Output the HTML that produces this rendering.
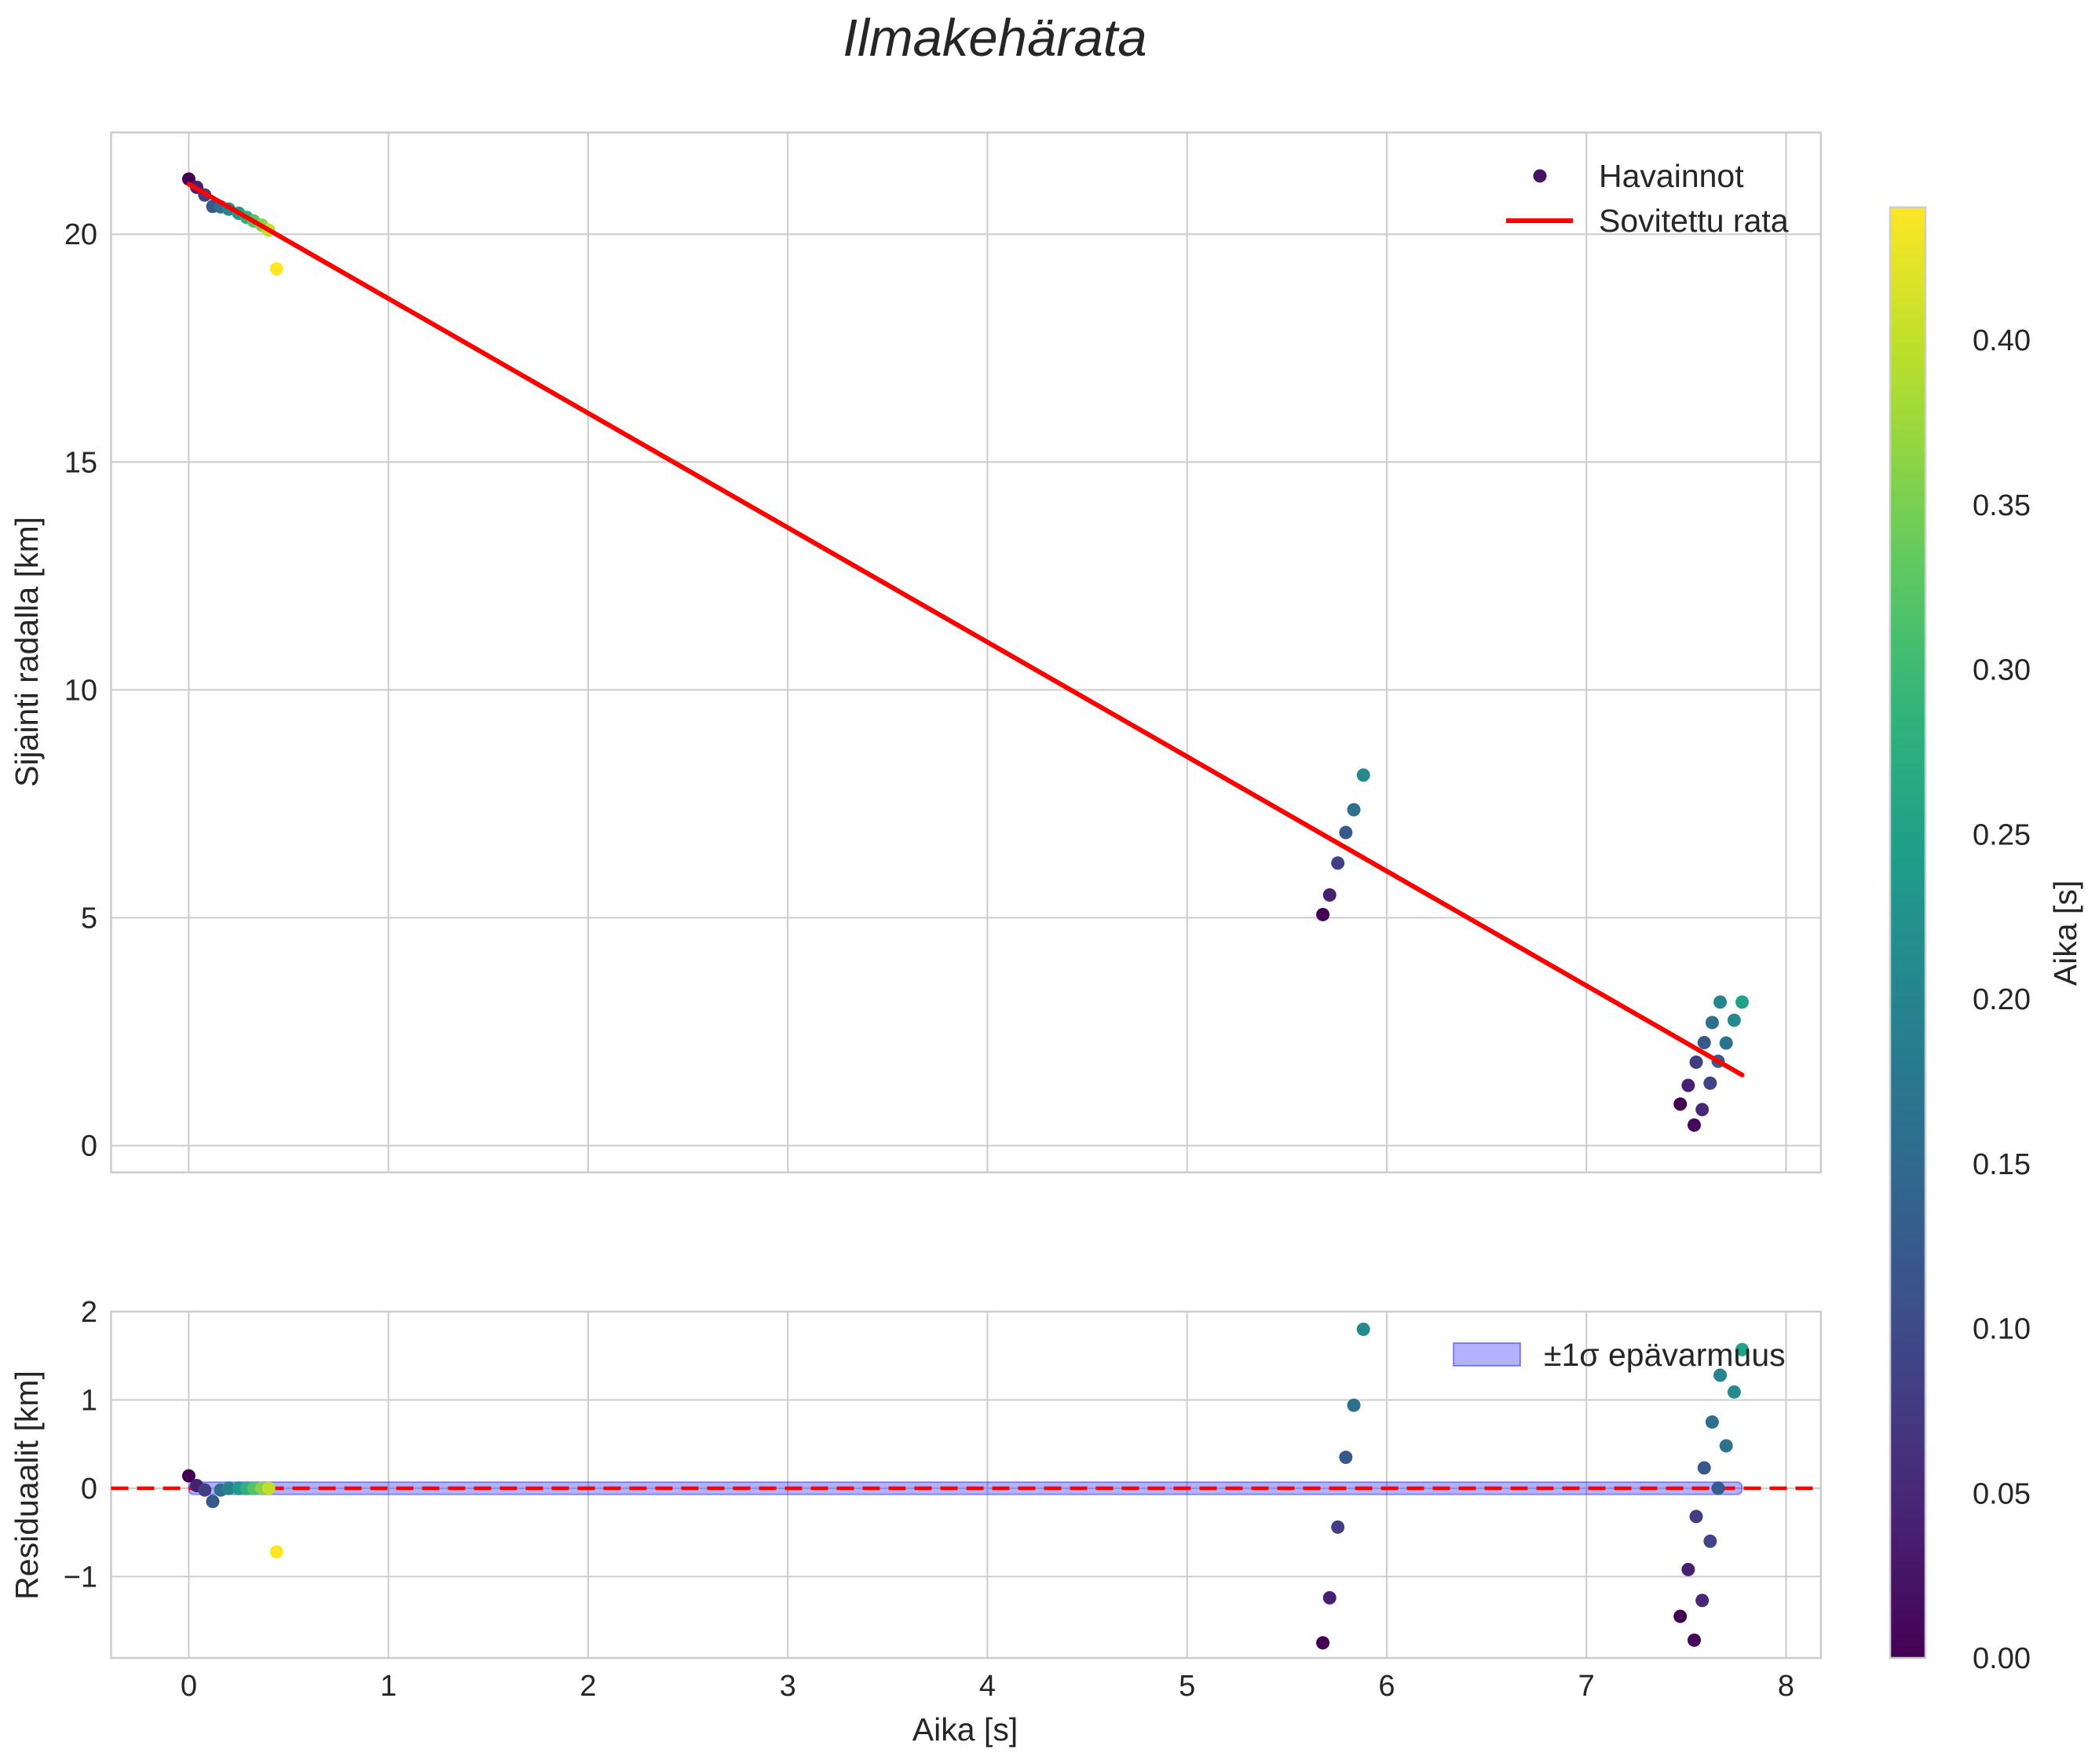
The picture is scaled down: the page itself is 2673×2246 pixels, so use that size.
<!DOCTYPE html>
<html><head><meta charset="utf-8"><style>
html,body{margin:0;padding:0;background:#fff;}
svg{display:block;font-family:"Liberation Sans",sans-serif;}
</style></head><body>
<svg id="fig" width="2673" height="2246" viewBox="0 0 2673 2246" xmlns="http://www.w3.org/2000/svg">
<text x="1267" y="71" font-size="67" font-style="italic" text-anchor="middle" fill="#262626">Ilmakehärata</text>
<g id="topPanel"></g>
<g id="botPanel"></g>
<g id="cbPanel"></g>
</svg>
<script>
const obsTime=[0,0.04,0.08,0.12,0.16,0.2,0.25,0.29,0.325,0.365,0.40,0.44,
5.68,5.714,5.755,5.795,5.835,5.883,
7.47,7.51,7.54,7.55,7.58,7.59,7.62,7.63,7.66,7.67,7.70,7.74,7.78];
const obsPos=[21.21,21.03,20.86,20.61,20.6,20.55,20.46,20.37,20.29,20.2,20.09,19.24,
5.07,5.5,6.2,6.87,7.37,8.13,
0.91,1.32,0.45,1.83,0.79,2.26,1.37,2.70,1.85,3.15,2.25,2.75,3.15];
const obsColor=[0,0.04,0.08,0.12,0.16,0.2,0.24,0.28,0.32,0.36,0.40,0.44,
0.0,0.04,0.08,0.12,0.16,0.21,
0.0,0.04,0.01,0.08,0.05,0.12,0.09,0.16,0.13,0.20,0.17,0.21,0.25];
const residuals=[0.14,0.03,-0.02,-0.15,-0.02,0,0,0,0,0,0,-0.72,
-1.75,-1.24,-0.44,0.35,0.94,1.8,
-1.45,-0.92,-1.72,-0.32,-1.27,0.23,-0.6,0.75,0.0,1.28,0.48,1.09,1.57];
const fitT=[0,7.78];
const fitPos=[21.1,1.55];
const sigmaHalf=0.07;
const xTicks=[0,1,2,3,4,5,6,7,8];
const yTopTicks=[0,5,10,15,20];
const yBotTicks=[-1,0,1,2];
const yBotTickLabels=["\u22121","0","1","2"];
const cbTicks=[0,0.05,0.10,0.15,0.20,0.25,0.30,0.35,0.40];

const NS="http://www.w3.org/2000/svg";
function mk(p,tag,a){const e=document.createElementNS(NS,tag);for(const k in a)e.setAttribute(k,a[k]);p.appendChild(e);return e;}
const VIR=[[68,1,84],[72,40,120],[62,74,137],[49,104,142],[38,130,142],[31,158,137],[53,183,121],[109,205,89],[180,222,44],[253,231,37]];
function viridis(v){v=Math.max(0,Math.min(1,v));const f=v*9,i=Math.min(8,Math.floor(f)),t=f-i;const a=VIR[i],b=VIR[i+1];return `rgb(${a.map((c,k)=>Math.round(c+(b[k]-c)*t)).join(',')})`;}
const cMax=0.4403;
const L=141.5,R=2318.8;
const X=v=>240.4+v*254.26;
const TT=168.7,TB=1492.7; const YT=v=>1458.6-v*58.02;
const BT=1670,BB=2111; const YB=v=>1894.9-v*112.45;
const TF=38, AF=41;

function axes(g,y0,y1,yf,yt,ylab,showX,pre){
  for(const t of xTicks){const l=mk(g,'line',{x1:X(t),x2:X(t),y1:y0,y2:y1,stroke:'#cccccc','stroke-width':2});
    
    if(showX){const tx=mk(g,'text',{x:X(t),y:y1+48,'font-size':TF,'text-anchor':'middle',fill:'#262626'});tx.textContent=t;
      }}
  yt.forEach((t,i)=>{const y=yf(t);const l=mk(g,'line',{x1:L,x2:R,y1:y,y2:y,stroke:'#cccccc','stroke-width':2});
    
    const tx=mk(g,'text',{x:124,y:y+13,'font-size':TF,'text-anchor':'end',fill:'#262626'});tx.textContent=ylab?ylab[i]:t;
    });
  const r=mk(g,'rect',{x:L,y:y0,width:R-L,height:y1-y0,fill:'none',stroke:'#cccccc','stroke-width':2.5});
  
}
function dots(g,vals,yf,pre){
  obsTime.forEach((t,i)=>{const c=mk(g,'circle',{cx:X(t),cy:yf(vals[i]),r:8.5,fill:viridis(obsColor[i]/cMax)});
    });
}
const topG=document.getElementById('topPanel');
axes(topG,TT,TB,YT,yTopTicks,null,false,'top-');
const fl=mk(topG,'line',{x1:X(fitT[0]),y1:YT(fitPos[0]),x2:X(fitT[1]),y2:YT(fitPos[1]),stroke:'#ff0000','stroke-width':6,'stroke-linecap':'round'});
dots(topG,obsPos,YT,'');
topG.appendChild(fl);


let tx=mk(topG,'text',{x:48,y:830,'font-size':AF,'text-anchor':'middle',fill:'#262626',transform:'rotate(-90 48 830)'});tx.textContent='Sijainti radalla [km]';


let lg=mk(topG,'g',{});


let el=mk(lg,'circle',{cx:1961,cy:224,r:8.5,fill:viridis(0.05)});


tx=mk(lg,'text',{x:2036,y:238,'font-size':AF,fill:'#262626'});tx.textContent='Havainnot';


el=mk(lg,'line',{x1:1918,x2:2003,y1:281,y2:281,stroke:'#ff0000','stroke-width':6});


tx=mk(lg,'text',{x:2036,y:295,'font-size':AF,fill:'#262626'});tx.textContent='Sovitettu rata';



const botG=document.getElementById('botPanel');
axes(botG,BT,BB,YB,yBotTicks,yBotTickLabels,true,'bottom-');
el=mk(botG,'rect',{x:X(fitT[0]),y:YB(sigmaHalf),width:X(fitT[1])-X(fitT[0]),height:YB(-sigmaHalf)-YB(sigmaHalf),fill:'rgba(0,0,255,0.3)',stroke:'rgba(0,0,255,0.35)','stroke-width':2,rx:6});


el=mk(botG,'line',{x1:L,x2:R,y1:YB(0),y2:YB(0),stroke:'#ff0000','stroke-width':4.5,'stroke-dasharray':'22 11'});


dots(botG,residuals,YB,'residual-');
tx=mk(botG,'text',{x:48,y:1891,'font-size':AF,'text-anchor':'middle',fill:'#262626',transform:'rotate(-90 48 1891)'});tx.textContent='Residuaalit [km]';


tx=mk(botG,'text',{x:1229,y:2216,'font-size':AF,'text-anchor':'middle',fill:'#262626'});tx.textContent='Aika [s]';


lg=mk(botG,'g',{});


el=mk(lg,'rect',{x:1851,y:1710,width:85,height:29,fill:'rgba(0,0,255,0.3)',stroke:'rgba(0,0,255,0.4)','stroke-width':2});


tx=mk(lg,'text',{x:1966,y:1739,'font-size':AF,fill:'#262626'});tx.textContent='±1σ epävarmuus';



const cbG=document.getElementById('cbPanel');
const CX=2407,CW=45,CT=264,CBt=2111;
const defs=mk(cbG,'defs',{});const gr=mk(defs,'linearGradient',{id:'vg',x1:0,y1:1,x2:0,y2:0});
for(let i=0;i<=20;i++)mk(gr,'stop',{offset:i/20,'stop-color':viridis(i/20)});
el=mk(cbG,'rect',{x:CX,y:CT,width:CW,height:CBt-CT,fill:'url(#vg)',stroke:'#cccccc','stroke-width':2.5});


for(const v of cbTicks){const y=CBt-(v/cMax)*(CBt-CT);
  const lt=mk(cbG,'text',{x:2512,y:y+13,'font-size':TF,fill:'#262626'});lt.textContent=v.toFixed(2);
  
  }
tx=mk(cbG,'text',{x:2644,y:1188,'font-size':AF,'text-anchor':'middle',fill:'#262626',transform:'rotate(-90 2644 1188)'});tx.textContent='Aika [s]';


</script>
</body></html>
